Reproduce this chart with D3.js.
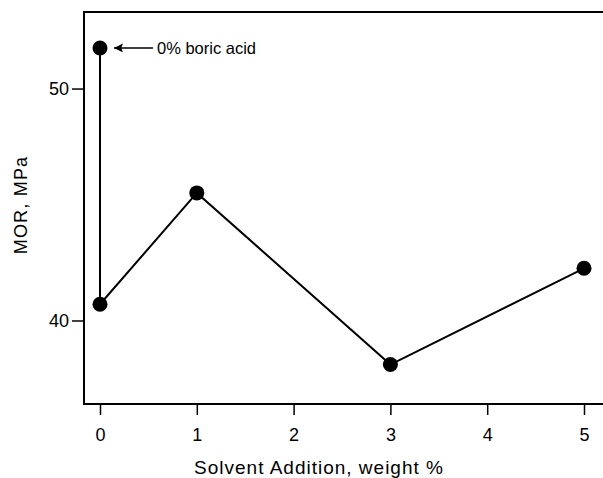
<!DOCTYPE html>
<html>
<head>
<meta charset="utf-8">
<script src="https://cdn.jsdelivr.net/npm/d3@7"></script>
<style>
  body { margin: 0; background: #fff; }
  svg text { font-family: "Liberation Sans", Arial, sans-serif; fill: #000; }
</style>
</head>
<body>
<div id="chart"></div>
<script>
// data
const solvent = [0, 0, 1, 3, 5];
const mor = [51.75, 40.7, 45.5, 38.1, 42.25];
const xTicks = [0, 1, 2, 3, 4, 5];
const yTicks = [40, 50];

const W = 603, H = 478;
const plotLeft = 84, plotTop = 12, plotBottom = 404;

const svg = d3.select("#chart").append("svg")
    .attr("width", W)
    .attr("height", H);

const x = d3.scaleLinear().domain([0, 5]).range([100, 584]);
const y = d3.scaleLinear().domain([36.4, 53.3]).range([plotBottom, plotTop]);

// frame: top line + left + bottom, open at the right
svg.append("line")
   .attr("x1", plotLeft).attr("x2", W).attr("y1", plotTop).attr("y2", plotTop)
   .attr("stroke", "#000").attr("stroke-width", 2);

const xAxis = svg.append("g")
   .attr("transform", `translate(0,${plotBottom})`)
   .call(d3.axisBottom(x).tickValues(xTicks).tickSize(11).tickPadding(13).tickFormat(d3.format("d")));
xAxis.select(".domain").remove();
xAxis.append("line")
   .attr("x1", plotLeft).attr("x2", W).attr("stroke", "#000").attr("stroke-width", 2);

const yAxis = svg.append("g")
   .attr("transform", `translate(${plotLeft},0)`)
   .call(d3.axisLeft(y).tickValues(yTicks).tickSize(12).tickPadding(3));
yAxis.select(".domain").remove();
yAxis.append("line")
   .attr("y1", plotTop - 1).attr("y2", plotBottom + 1).attr("stroke", "#000").attr("stroke-width", 2);

svg.selectAll(".tick line").attr("stroke", "#000").attr("stroke-width", 1.5);
svg.selectAll(".tick text").style("font-size", "18px").attr("fill", "#000");

// line + markers
const pts = solvent.map((s, i) => [s, mor[i]]);
svg.append("path")
   .datum(pts)
   .attr("fill", "none")
   .attr("stroke", "#000")
   .attr("stroke-width", 2)
   .attr("d", d3.line().x(d => x(d[0])).y(d => y(d[1])));

svg.selectAll(".dot")
   .data(pts)
   .enter().append("circle")
   .attr("class", "dot")
   .attr("cx", d => x(d[0]))
   .attr("cy", d => y(d[1]))
   .attr("r", 7.5)
   .attr("fill", "#000");

// annotation arrow pointing at the 0% boric acid point
const ay = y(mor[0]);
svg.append("defs").append("marker")
   .attr("id", "ah")
   .attr("viewBox", "0 0 10 10")
   .attr("refX", 0).attr("refY", 5)
   .attr("markerWidth", 13).attr("markerHeight", 9)
   .attr("markerUnits", "userSpaceOnUse")
   .attr("orient", "auto")
   .append("path").attr("d", "M0,5 L10,0 L8,5 L10,10 Z").attr("fill", "#000");

svg.append("line")
   .attr("x1", 114).attr("x2", 153).attr("y1", ay).attr("y2", ay)
   .attr("stroke", "#000").attr("stroke-width", 1.5)
   .attr("marker-start", "url(#ah)");

svg.append("text")
   .attr("x", 157).attr("y", ay + 6)
   .style("font-size", "16.5px")
   .text("0% boric acid");

// axis titles
svg.append("text")
   .attr("x", 319).attr("y", 474)
   .attr("text-anchor", "middle")
   .style("font-size", "19px")
   .style("letter-spacing", "1px")
   .text("Solvent Addition, weight %");

svg.append("text")
   .attr("transform", "translate(27,205) rotate(-90)")
   .attr("text-anchor", "middle")
   .style("font-size", "18px")
   .style("letter-spacing", "1.2px")
   .text("MOR, MPa");
</script>
</body>
</html>
